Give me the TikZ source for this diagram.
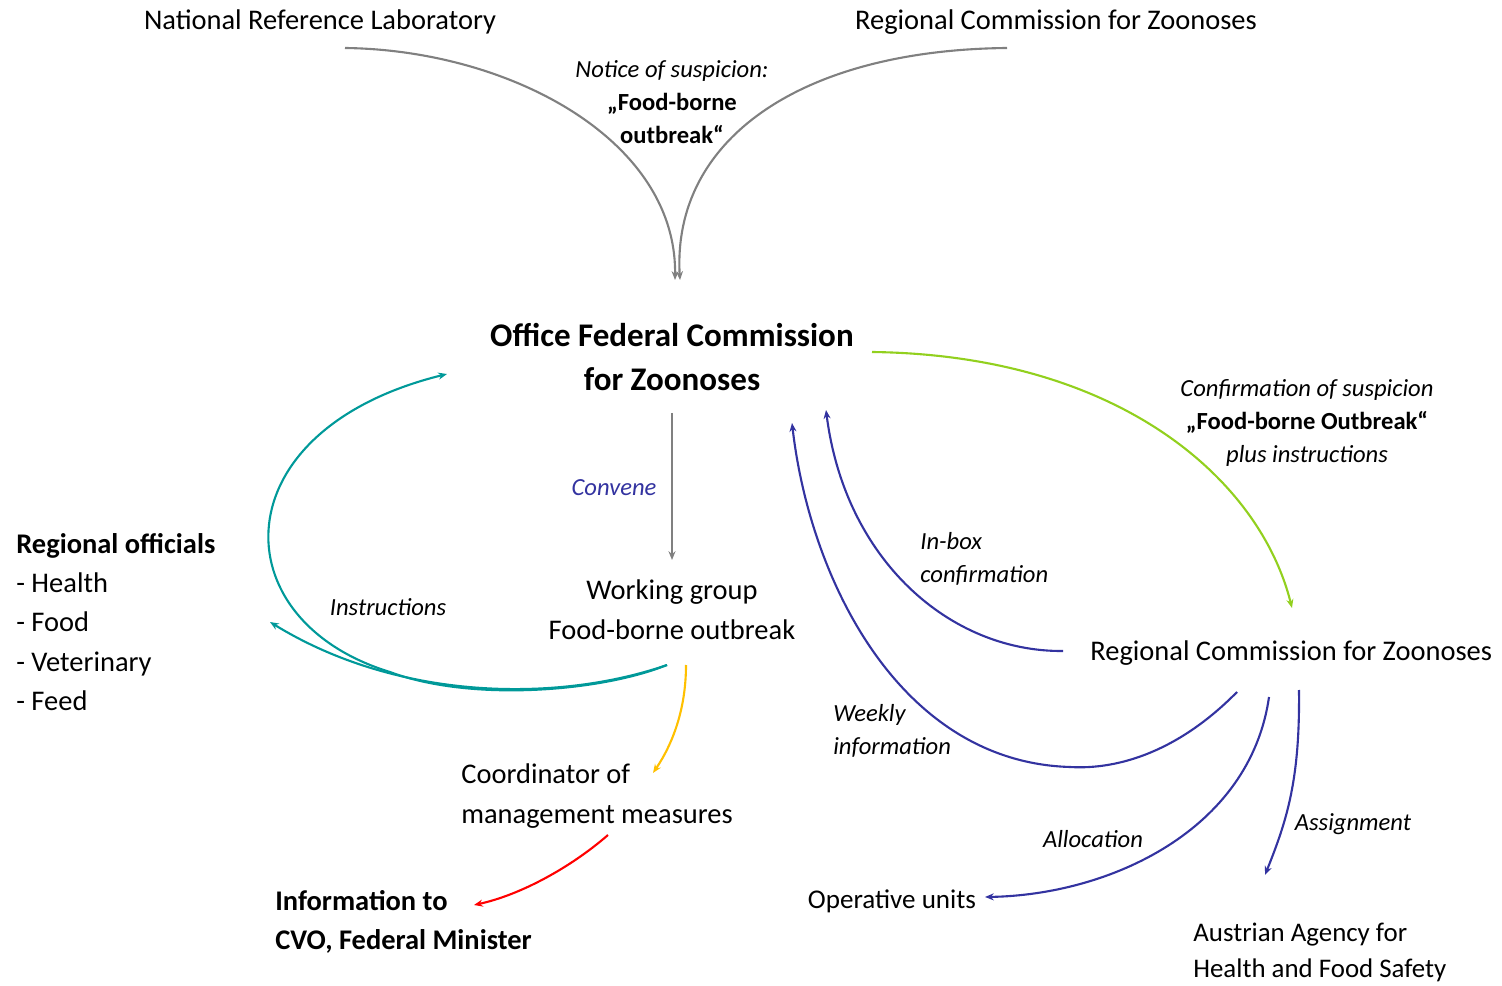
\documentclass[tikz,border=0pt]{standalone}
\usepackage{fontspec}
\setmainfont{Carlito}
\usetikzlibrary{arrows.meta}
\definecolor{cgray}{RGB}{128,128,128}
\definecolor{cgreen}{RGB}{146,208,30}
\definecolor{cblue}{RGB}{51,51,160}
\definecolor{cteal}{RGB}{0,153,153}
\definecolor{cyellow}{RGB}{255,192,0}
\definecolor{cred}{RGB}{255,0,0}
\tikzset{
  txt/.style={inner sep=0pt, font=\fontsize{16.2}{22.5}\selectfont},
  lbl/.style={inner sep=0pt, font=\fontsize{14}{19}\selectfont\itshape},
  ttl/.style={inner sep=0pt, font=\fontsize{18.8}{25.5}\selectfont\bfseries},
  conn/.style={line width=1.2pt, -{Stealth[length=5pt,width=4pt]}},
}
\begin{document}
\begin{tikzpicture}[x=0.02cm,y=-0.02cm]
\useasboundingbox (0,0) rectangle (1502,986);
% text nodes
\node[txt] (nrl) at (320,22) {National Reference Laboratory};
\node[txt] (rczt) at (1056,22) {Regional Commission for Zoonoses};
\node[lbl, align=center] (notice) at (672,102) {Notice of suspicion:\\\upshape\bfseries „Food-borne\\\upshape\bfseries outbreak“};
\node[ttl, align=center] (office) at (672,357) {Office Federal Commission\\for Zoonoses};
\node[lbl, text=cblue] (convene) at (614,488) {Convene};
\node[txt, align=center, font=\fontsize{16.2}{22.7}\selectfont] (wg) at (672,610) {Working group\\Food-borne outbreak};
\node[txt, align=left, anchor=west, font=\fontsize{16.2}{22.3}\selectfont] (officials) at (16,622) {\textbf{Regional officials}\\- Health\\- Food\\- Veterinary\\- Feed};
\node[lbl] (instr) at (388,607) {Instructions};
\node[txt, align=left, anchor=west] (coord) at (461,796) {Coordinator of\\management measures};
\node[txt, align=left, anchor=west, font=\fontsize{16.2}{22.2}\selectfont\bfseries] (info) at (275,922) {Information to\\CVO, Federal Minister};
\node[lbl, align=center] (confirm) at (1307,423) {Confirmation of suspicion\\\upshape\bfseries „Food-borne Outbreak“\\plus instructions};
\node[lbl, align=left, anchor=west] (inbox) at (920,559) {In-box\\confirmation};
\node[txt, anchor=west] (rczr) at (1090,653) {Regional Commission for Zoonoses};
\node[lbl, align=left, anchor=west] (weekly) at (833,731) {Weekly\\information};
\node[lbl] (alloc) at (1093,839) {Allocation};
\node[txt, font=\fontsize{15.4}{20}\selectfont] (oper) at (892,901) {Operative units};
\node[lbl] (assign) at (1353,824) {Assignment};
\node[txt, align=left, anchor=west, font=\fontsize{15.3}{20.4}\selectfont] (ages) at (1193,952) {Austrian Agency for\\Health and Food Safety};
% connector end points
\coordinate (nrlS) at (345,48);
\coordinate (rcztS) at (1007,48);
\coordinate (offIn1) at (675,280);
\coordinate (offIn2) at (680,280);
\coordinate (offS) at (672,413);
\coordinate (wgN) at (672,560);
\coordinate (offE) at (872,352);
\coordinate (rczrN) at (1292,608);
\coordinate (rczrW) at (1063,651);
\coordinate (offIn3) at (826,410);
\coordinate (rczrS1) at (1237,692);
\coordinate (offIn4) at (792,423);
\coordinate (rczrS2) at (1269,697);
\coordinate (operE) at (985,897);
\coordinate (rczrS3) at (1299,690);
\coordinate (agesN) at (1265,875);
\coordinate (wgS1) at (667,665);
\coordinate (officialsE) at (270,622);
\coordinate (offW) at (447,374);
\coordinate (wgS2) at (686,665);
\coordinate (coordNE) at (653,773);
\coordinate (coordS) at (608,835);
\coordinate (infoE) at (474,905);
% connectors
\draw[conn, cgray] (nrlS) .. controls (510,50) and (677,140) .. (offIn1);
\draw[conn, cgray] (rcztS) .. controls (800,50) and (672,140) .. (offIn2);
\draw[conn, cgray] (offS) -- (wgN);
\draw[conn, cgreen] (offE) .. controls (1120,355) and (1260,480) .. (rczrN);
\draw[conn, cblue] (rczrW) .. controls (950,652) and (845,560) .. (offIn3);
\draw[conn, cblue] (rczrS1) .. controls (1180,750) and (1120,770) .. (1070,767) .. controls (900,762) and (810,580) .. (offIn4);
\draw[conn, cblue] (rczrS2) .. controls (1250,830) and (1110,895) .. (operE);
\draw[conn, cblue] (rczrS3) .. controls (1300,780) and (1287,820) .. (agesN);
\draw[conn, cteal] (wgS1) .. controls (560,702) and (400,702) .. (officialsE);
\draw[conn, cteal] (wgS1) .. controls (600,692) and (470,702) .. (390,672) .. controls (220,620) and (220,430) .. (offW);
\draw[conn, cyellow] (wgS2) .. controls (686,710) and (672,745) .. (coordNE);
\draw[conn, cred] (coordS) .. controls (570,868) and (520,895) .. (infoE);
\end{tikzpicture}
\end{document}
